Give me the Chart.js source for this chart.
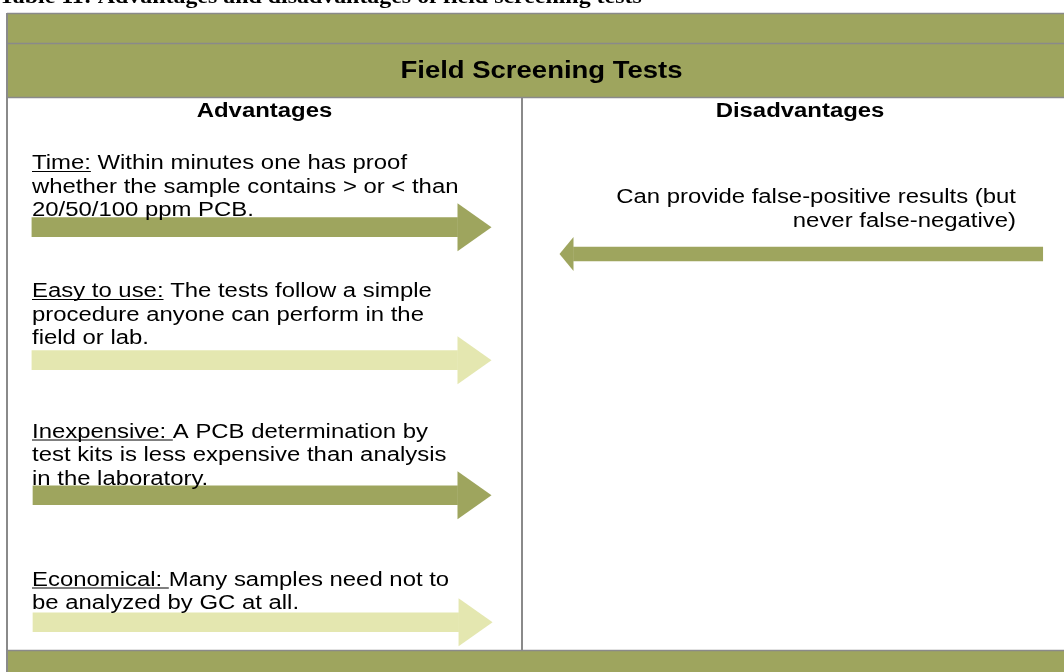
<!DOCTYPE html>
<html><head><meta charset="utf-8">
<script src="https://cdn.jsdelivr.net/npm/chart.js@4/dist/chart.umd.min.js"></script>
<style>html,body{margin:0;padding:0;background:#fff;overflow:hidden}canvas{display:block}</style>
</head><body>
<canvas id="c" width="1064" height="672"></canvas>
<script>
// ---- content ----
const caption = "Table 11: Advantages and disadvantages of field screening tests";
const title = "Field Screening Tests";
const columnHeads = ["Advantages", "Disadvantages"];
const advLabels = ["Time:", "Easy to use:", "Inexpensive: ", "Economical: "];
const advFirstLines = [" Within minutes one has proof", " The tests follow a simple", "A PCB determination by", "Many samples need not to"];
const advMoreLines = [
  ["whether the sample contains > or < than", "20/50/100 ppm PCB."],
  ["procedure anyone can perform in the", "field or lab."],
  ["test kits is less expensive than analysis", "in the laboratory."],
  ["be analyzed by GC at all."]
];
const disLines = ["Can provide false-positive results (but", "never false-negative)"];

// ---- arrows (percent of page width / height) ----
const advArrowStart = [3.0, 3.0, 3.1, 3.1];
const advArrowEnd   = [43.0, 43.0, 43.0, 43.1];
const advArrowRow   = [33.8, 53.6, 73.7, 92.6];
const advArrowShade = ["dark", "light", "dark", "light"];
const disArrowStart = [98.0];
const disArrowEnd   = [53.9];
const disArrowRow   = [37.8];

const DARK = "#9ea55e", LIGHT = "#e4e7b0", GRID = "#8a8a8a";
const HS = 1.195; // horizontal text stretch of the source
const SANS = '"Liberation Sans", Arial, sans-serif';

function txt(ctx, s, x, y, align) {
  ctx.save(); ctx.translate(x, y); ctx.scale(HS, 1);
  ctx.textAlign = align || "left"; ctx.textBaseline = "alphabetic";
  ctx.fillText(s, 0, 0);
  const w = ctx.measureText(s).width * HS;
  ctx.restore(); return w;
}

const tablePlugin = {
  id: "table",
  beforeDatasetsDraw(chart) {
    const ctx = chart.ctx;
    ctx.save();
    ctx.fillStyle = "#fff"; ctx.fillRect(0, 0, 1064, 672);
    // caption (clipped at top)
    ctx.fillStyle = "#000";
    ctx.font = 'bold 20px "Liberation Serif", "Times New Roman", serif';
    txt(ctx, caption, -1, 3, "left");
    // header bands
    ctx.fillStyle = DARK;
    ctx.fillRect(7, 13, 1057, 84);
    ctx.fillRect(7, 651, 1057, 21);
    ctx.strokeStyle = GRID; ctx.lineWidth = 1.5;
    ctx.beginPath();
    ctx.moveTo(7, 13.5); ctx.lineTo(1064, 13.5);
    ctx.moveTo(7, 43.5); ctx.lineTo(1064, 43.5);
    ctx.moveTo(7, 97.5); ctx.lineTo(1064, 97.5);
    ctx.moveTo(7, 650.5); ctx.lineTo(1064, 650.5);
    ctx.stroke();
    ctx.lineWidth = 2;
    ctx.beginPath();
    ctx.moveTo(7, 13); ctx.lineTo(7, 672);
    ctx.moveTo(522, 97); ctx.lineTo(522, 651);
    ctx.stroke();
    ctx.restore();
  },
  afterDatasetsDraw(chart) {
    const ctx = chart.ctx, xs = chart.scales.x;
    ctx.save();
    // arrow heads
    chart.data.datasets.forEach((ds, di) => {
      const meta = chart.getDatasetMeta(di);
      meta.data.forEach((el, i) => {
        const [s, e] = ds.data[i].x;
        const dir = e > s ? 1 : -1;
        const bx = xs.getPixelForValue(e);
        const y = el.y;
        ctx.fillStyle = Array.isArray(ds.backgroundColor) ? ds.backgroundColor[i] : ds.backgroundColor;
        ctx.beginPath();
        ctx.moveTo(bx, y - ds.headHalf);
        ctx.lineTo(bx + dir * ds.headLength, y);
        ctx.lineTo(bx, y + ds.headHalf);
        ctx.closePath(); ctx.fill();
      });
    });
    // texts
    ctx.fillStyle = "#000";
    ctx.font = "bold 23px " + SANS;
    txt(ctx, title, 541.5, 78, "center");
    ctx.font = "bold 20px " + SANS;
    txt(ctx, columnHeads[0], 264.5, 117, "center");
    txt(ctx, columnHeads[1], 800, 117, "center");
    ctx.font = "20px " + SANS;
    const firstBase = [169, 297, 437.5, 585.5];
    const LH = 23.5, X0 = 32;
    ctx.strokeStyle = "#000"; ctx.lineWidth = 1;
    advLabels.forEach((lab, i) => {
      const y = firstBase[i];
      const w = txt(ctx, lab, X0, y, "left");
      ctx.beginPath(); ctx.moveTo(X0, y + 2.5); ctx.lineTo(X0 + w, y + 2.5); ctx.stroke();
      txt(ctx, advFirstLines[i], X0 + w, y, "left");
      advMoreLines[i].forEach((l, k) => txt(ctx, l, X0, y + LH * (k + 1), "left"));
    });
    disLines.forEach((l, k) => txt(ctx, l, 1016, 203 + LH * k, "right"));
    ctx.restore();
  }
};

new Chart(document.getElementById("c"), {
  type: "bar",
  data: {
    datasets: [
      {
        label: "Advantages",
        data: advArrowRow.map((r, i) => ({ x: [advArrowStart[i], advArrowEnd[i]], y: r })),
        backgroundColor: advArrowShade.map(s => s === "dark" ? DARK : LIGHT),
        barThickness: 19, grouped: false, borderWidth: 0,
        headLength: 34, headHalf: 24
      },
      {
        label: "Disadvantages",
        data: disArrowRow.map((r, i) => ({ x: [disArrowStart[i], disArrowEnd[i]], y: r })),
        backgroundColor: DARK,
        barThickness: 14, grouped: false, borderWidth: 0,
        headLength: 14, headHalf: 17
      }
    ]
  },
  options: {
    indexAxis: "y",
    responsive: false, animation: false, devicePixelRatio: 1, events: [],
    layout: { padding: 0 },
    scales: {
      x: { type: "linear", min: 0, max: 100, display: false, offset: false },
      y: { type: "linear", min: 0, max: 100, reverse: true, display: false, offset: false }
    },
    plugins: { legend: { display: false }, tooltip: { enabled: false } }
  },
  plugins: [tablePlugin]
});
</script>
</body></html>
